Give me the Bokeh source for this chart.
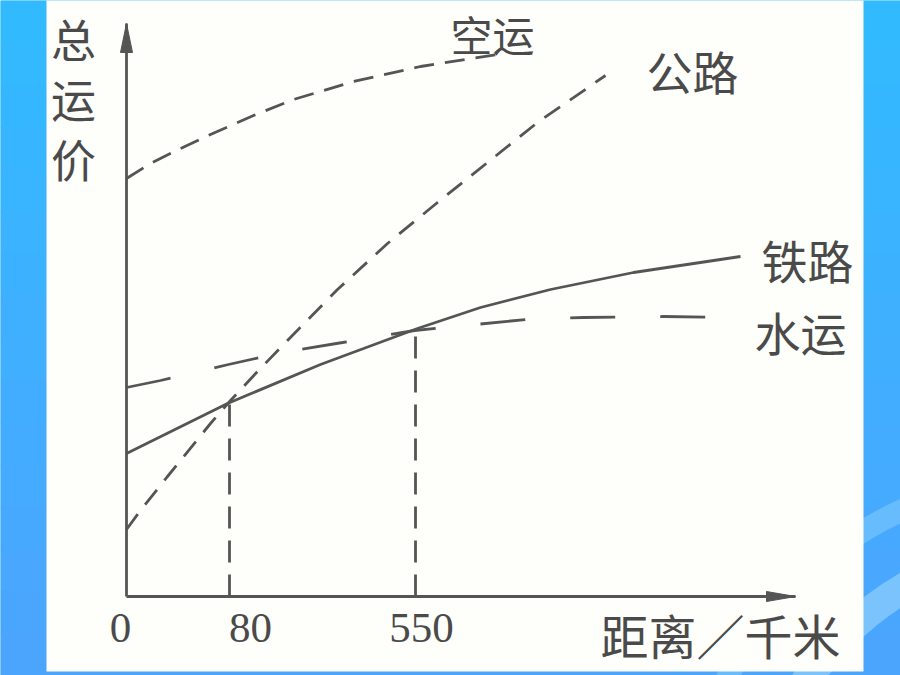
from bokeh.plotting import figure
from bokeh.models import Range1d, ColumnDataSource
from bokeh.core.properties import value
from bokeh.embed import file_html
from bokeh.resources import INLINE

# ---------------- data (schematic units) ----------------
# x: position along the distance axis (diagram is not to scale), y: total freight cost
air_x = [0, 24, 54, 84, 127, 167, 227, 294, 371]
air_y = [418, 433, 448, 462, 481, 497, 515, 530, 542]

road_x = [0, 14, 41, 84, 104, 131, 161, 211, 261, 311, 361, 411, 479]
road_y = [67, 86, 120, 173, 196, 225, 256, 307, 353, 394, 434, 474, 521]

rail_x = [0, 101, 194, 291, 354, 424, 507, 614]
rail_y = [143, 193, 232, 268, 289, 307, 324, 340]

water_x = [0, 34, 102, 161, 216, 288, 349, 399, 457, 537, 609]
water_y = [209, 216, 232, 245, 254, 266, 272, 277, 279, 280, 279]

tick_pos = [0, 103, 289]
tick_labels = ["0", "80", "550"]
guide_x = [103, 289]          # break-even distances 80 km and 550 km
guide_top = [194, 267]        # where the curves cross

series_names = ["空运", "公路", "铁路", "水运"]
y_title_chars = ["总", "运", "价"]
x_title = "距离／千米"

x_axis_end = 669
y_axis_end = 573

# ---------------- styles ----------------
INK = "#555555"
TXT = "#4a4a4a"
CJK = value("Noto Sans CJK SC")

p = figure(width=900, height=675, output_backend="svg", toolbar_location=None,
           x_range=Range1d(-126, 774), y_range=Range1d(-79, 596),
           x_axis_type=None, y_axis_type=None, min_border=0)
p.styles = {"position": "absolute", "left": "0px", "top": "0px"}
p.grid.visible = False
p.outline_line_color = None
p.background_fill_color = "#3db4fd"
p.border_fill_color = "#3db4fd"

# blue backdrop gradient (vertical bands)
n = 16
top = (50, 186, 255)
bot = (76, 165, 253)
bands_bottom, bands_top, cols = [], [], []
for i in range(n):
    t = i / (n - 1)
    c = tuple(int(round(top[k] + (bot[k] - top[k]) * t)) for k in range(3))
    cols.append("#%02x%02x%02x" % c)
    bands_top.append(596 - i * 675 / n)
    bands_bottom.append(596 - (i + 1) * 675 / n - 1)
p.quad(left=-126, right=774, top=bands_top, bottom=bands_bottom, fill_color=cols, line_color=None)
# light arcs at bottom right
p.circle(x=[930, 930], y=[-250, -250], radius=[370, 300], fill_color=None,
         line_color=["#6fc0fd", "#86cafd"], line_width=[22, 30], line_alpha=0.8)

# paper
p.quad(left=-80, right=737, top=600, bottom=-75, fill_color="#fefefa", line_color=None)

# axes with arrow heads
p.line([0, 0], [0, y_axis_end], line_color=INK, line_width=2.8)
p.line([0, x_axis_end], [0, 0], line_color=INK, line_width=2.8)
hl, hw = 29, 6
p.patch([0, -hw, hw], [y_axis_end, y_axis_end - hl, y_axis_end - hl], fill_color=INK, line_color=INK)
p.patch([x_axis_end, x_axis_end - hl, x_axis_end - hl], [0, hw - 1, -hw + 1], fill_color=INK, line_color=INK)

# curves
p.line(air_x, air_y, line_color=INK, line_width=2.8, line_dash="20 11")
p.line(road_x, road_y, line_color=INK, line_width=2.8, line_dash="19 12")
p.line(rail_x, rail_y, line_color=INK, line_width=2.8)
p.line(water_x, water_y, line_color=INK, line_width=2.8, line_dash="45 45")

# guide lines
p.segment(x0=guide_x, y0=[0] * len(guide_x), x1=guide_x, y1=guide_top,
          line_color=INK, line_width=2.8, line_dash="22 12")

# tick labels
tick_src = ColumnDataSource(dict(x=tick_pos, t=tick_labels, dx=[-6, 21, 6]))
p.text(x="x", y=-31, text="t", x_offset="dx", source=tick_src,
       text_font=value("Liberation Serif"), text_font_size="43px",
       text_color=TXT, text_align="center", text_baseline="middle")

# series labels
lab_x = [366, 566, 681, 674]
lab_y = [563, 527, 338, 266]
lab_src = ColumnDataSource(dict(x=lab_x, y=lab_y, t=series_names,
                                fs=["42px", "46px", "46px", "46px"]))
p.text(x="x", y="y", text="t", text_font_size="fs", source=lab_src, text_font=CJK,
       text_color=TXT, text_align="center", text_baseline="middle")

# axis titles
p.text(x=[-53] * 3, y=[558, 498, 438], text=y_title_chars, text_font=CJK, text_font_size="45px",
       text_color=TXT, text_align="center", text_baseline="middle")
p.text(x=[594], y=[-37], text=[x_title], text_font=CJK, text_font_size="48px",
       text_color=TXT, text_align="center", text_baseline="middle")

open("out.html", "w").write(file_html(p, INLINE))
